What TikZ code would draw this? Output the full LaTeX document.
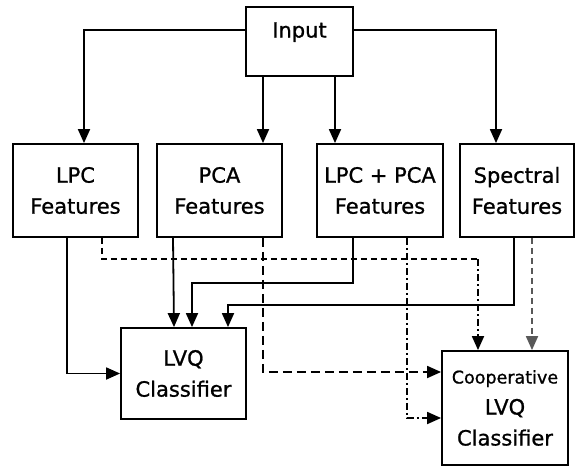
\documentclass[tikz,border=0pt]{standalone}
\usepackage{fontspec}
\setmainfont[FakeBold=1]{DejaVu Sans}
\usetikzlibrary{arrows.meta}

\begin{document}
\begin{tikzpicture}[
  x=1pt, y=-1pt,
  >={Triangle[length=14pt,width=12pt]},
  line width=1.8pt,
  box/.style={rectangle,draw=black,line width=1.8pt,align=center,inner sep=0pt,
    font=\fontsize{21}{31}\selectfont},
  lpcdash/.style={dash pattern=on 6pt off 4pt},
  longdash/.style={dash pattern=on 9pt off 5pt},
  dotdash/.style={dash pattern=on 7pt off 3pt on 2pt off 3pt}
]
\useasboundingbox (0,0) rectangle (576,466);

\node[box,minimum width=107pt,minimum height=69pt,
  label={[anchor=center,yshift=-26pt,font=\fontsize{21}{31}\selectfont]north:Input}] (input) at (299.5,41.5) {};

\node[box,minimum width=125pt,minimum height=93pt] (lpc) at (75.5,190.5) {LPC\\Features};
\node[box,minimum width=125pt,minimum height=93pt] (pca) at (219.5,190.5) {PCA\\Features};
\node[box,minimum width=126pt,minimum height=93pt] (lpcpca) at (380,190.5) {LPC + PCA\\Features};
\node[box,minimum width=114pt,minimum height=93pt] (spec) at (517,190.5) {Spectral\\Features};

\node[box,minimum width=125pt,minimum height=91pt] (lvq) at (183.5,373.5) {LVQ\\Classifier};
\node[box,minimum width=126pt,minimum height=114pt] (coop) at (505,408)
  {{\fontsize{17.5}{31}\selectfont Cooperative}\\LVQ\\Classifier};

% input to the feature blocks
\coordinate (pcain) at ([xshift=43.5pt]pca.north);
\coordinate (lpcpcain) at ([xshift=-45pt]lpcpca.north);
\draw[->] ([yshift=11.5pt]input.west) -| ([xshift=8.5pt]lpc.north);
\draw[->] ([yshift=11.5pt]input.east) -| ([xshift=-21pt]spec.north);
\draw[->] (input.south -| pcain) -- (pcain);
\draw[->] (input.south -| lpcpcain) -- (lpcpcain);

% features to LVQ
\draw[->] ([xshift=-8.5pt]lpc.south) |- (lvq.west);
\draw[->] ([xshift=-46.5pt]pca.south) -- ([xshift=-9.5pt]lvq.north);
\draw[->] ([xshift=-27pt]lpcpca.south) -- ++(0,45) -| ([xshift=8.5pt]lvq.north);
\draw[->] ([xshift=-3pt]spec.south) -- ++(0,67) -| ([xshift=44.5pt]lvq.north);

% features to cooperative LVQ
\coordinate (coopin) at ([xshift=-27pt]coop.north);
\coordinate (lpcbend) at (coopin |- 0,259);
\draw[lpcdash] ([xshift=26.5pt]lpc.south) |- (lpcbend);
\draw[->,dotdash] (lpcbend) -- (coopin);
\draw[->,longdash] ([xshift=43.5pt]pca.south) |- ([yshift=36pt]coop.west);
\draw[->,dotdash] ([xshift=27pt]lpcpca.south) |- ([yshift=-10pt]coop.west);
\draw[->,lpcdash,black!65] ([xshift=15pt]spec.south) -- ([xshift=27pt]coop.north);

\end{tikzpicture}
\end{document}
